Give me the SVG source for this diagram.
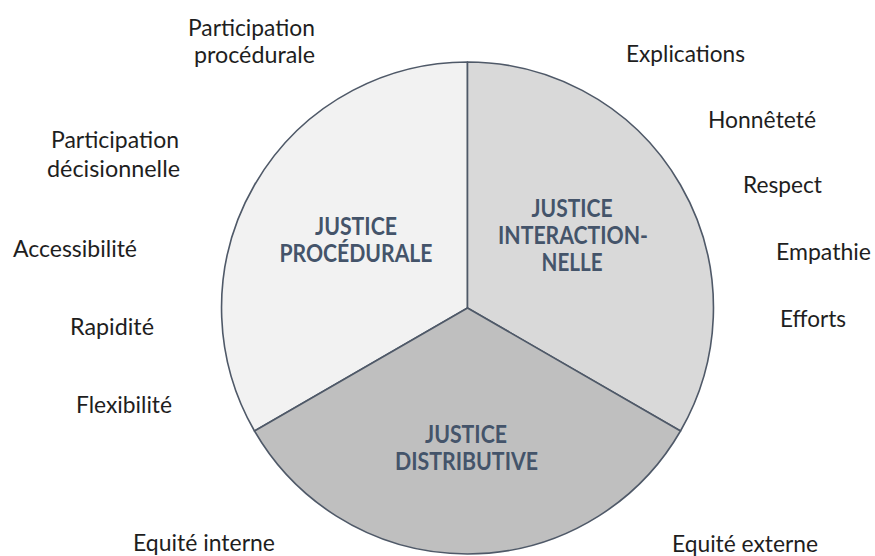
<svg xmlns="http://www.w3.org/2000/svg" width="875" height="556" viewBox="0 0 875 556">
<style>
.seg{stroke:#4f5968;stroke-width:1.6;stroke-linejoin:round}
.lbl{font-family:Lato,"Liberation Sans",sans-serif;font-size:24px;fill:#1e1e1e}
.r{text-anchor:end}
.ttl{font-family:Lato,"Liberation Sans",sans-serif;font-size:24px;font-weight:bold;fill:#44546a;text-anchor:middle}
</style>
<rect width="875" height="556" fill="#ffffff"/>
<g id="segments">
<g id="procedurale">
<path class="seg" fill="#f2f2f2" d="M467.5,308 L467.5,62 A246,246 0 0 0 254.5,431 Z"/>
<text class="ttl" x="356" y="235" textLength="82" lengthAdjust="spacingAndGlyphs">JUSTICE</text>
<text class="ttl" x="356" y="262" textLength="153" lengthAdjust="spacingAndGlyphs">PROCÉDURALE</text>
</g>
<g id="interactionnelle">
<path class="seg" fill="#d9d9d9" d="M467.5,308 L467.5,62 A246,246 0 0 1 680.5,431 Z"/>
<text class="ttl" x="572" y="217" textLength="81" lengthAdjust="spacingAndGlyphs">JUSTICE</text>
<text class="ttl" x="573" y="244" textLength="150" lengthAdjust="spacingAndGlyphs">INTERACTION-</text>
<text class="ttl" x="572" y="271" textLength="61" lengthAdjust="spacingAndGlyphs">NELLE</text>
</g>
<g id="distributive">
<path class="seg" fill="#bfbfbf" d="M467.5,308 L680.5,431 A246,246 0 0 1 254.5,431 Z"/>
<text class="ttl" x="466" y="443" textLength="82" lengthAdjust="spacingAndGlyphs">JUSTICE</text>
<text class="ttl" x="466.5" y="470" textLength="143" lengthAdjust="spacingAndGlyphs">DISTRIBUTIVE</text>
</g>
</g>
<g id="labels-procedurale">
<text class="lbl r" x="315" y="36" textLength="127" lengthAdjust="spacingAndGlyphs">Participation</text>
<text class="lbl r" x="315" y="63" textLength="121" lengthAdjust="spacingAndGlyphs">procédurale</text>
<text class="lbl r" x="179" y="148" textLength="128" lengthAdjust="spacingAndGlyphs">Participation</text>
<text class="lbl r" x="180" y="177" textLength="133" lengthAdjust="spacingAndGlyphs">décisionnelle</text>
<text class="lbl" x="13" y="257" textLength="124" lengthAdjust="spacingAndGlyphs">Accessibilité</text>
<text class="lbl" x="70" y="335" textLength="84" lengthAdjust="spacingAndGlyphs">Rapidité</text>
<text class="lbl" x="76" y="413" textLength="96" lengthAdjust="spacingAndGlyphs">Flexibilité</text>
</g>
<g id="labels-interactionnelle">
<text class="lbl" x="626" y="62" textLength="119" lengthAdjust="spacingAndGlyphs">Explications</text>
<text class="lbl" x="708" y="128" textLength="108" lengthAdjust="spacingAndGlyphs">Honnêteté</text>
<text class="lbl" x="743" y="193" textLength="79" lengthAdjust="spacingAndGlyphs">Respect</text>
<text class="lbl" x="776" y="260" textLength="95" lengthAdjust="spacingAndGlyphs">Empathie</text>
<text class="lbl" x="780" y="327" textLength="66" lengthAdjust="spacingAndGlyphs">Efforts</text>
</g>
<g id="labels-distributive">
<text class="lbl" x="133" y="551" textLength="142" lengthAdjust="spacingAndGlyphs">Equité interne</text>
<text class="lbl" x="672" y="552" textLength="146" lengthAdjust="spacingAndGlyphs">Equité externe</text>
</g>
</svg>
